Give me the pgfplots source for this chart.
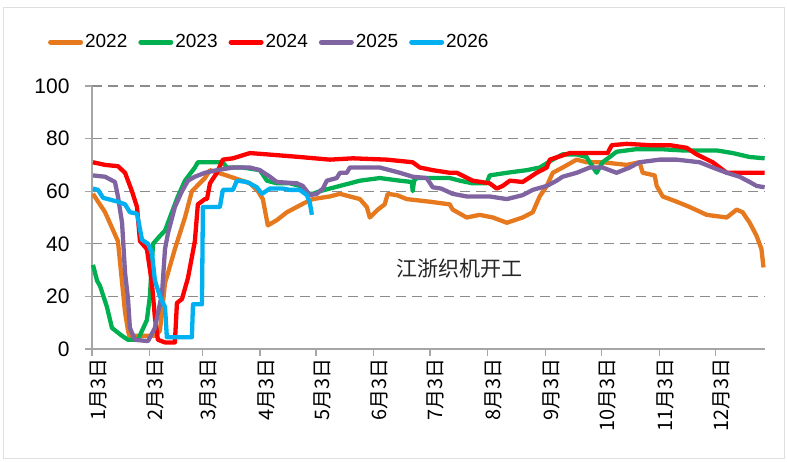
\documentclass[border=0pt]{standalone}
\usepackage{pgfplots}
\pgfplotsset{compat=1.18}
\usepackage{fontspec}
\setmainfont{Liberation Sans}
\newfontfamily\cjk{Noto Sans CJK SC}
\definecolor{c22}{RGB}{230,120,30}
\definecolor{c23}{RGB}{0,176,80}
\definecolor{c24}{RGB}{255,0,0}
\definecolor{c25}{RGB}{128,100,162}
\definecolor{c26}{RGB}{0,176,240}
\begin{document}
\begin{tikzpicture}
\useasboundingbox (-92pt,-113pt) rectangle (695pt,349pt);
\draw[gray!25, line width=1pt] (-88pt,-110pt) rectangle (692pt,341pt);
\begin{axis}[
  scale only axis, width=673pt, height=263pt,
  xmin=3, xmax=363.5, ymin=0, ymax=100,
  axis lines*=left,
  axis line style={draw=gray!70, line width=1.2pt},
  tick style={draw=gray!70, line width=1.2pt},
  tick align=outside, major tick length=7pt,
  xtick={3,34,62,93,123,154,184,215,246,276,307,337},
  xticklabels={1月3日,2月3日,3月3日,4月3日,5月3日,6月3日,7月3日,8月3日,9月3日,10月3日,11月3日,12月3日},
  x tick label style={rotate=90, anchor=east, font=\cjk\fontsize{20}{20}\selectfont, inner sep=2pt, xshift=0pt, yshift=-6pt},
  ytick={0,20,40,60,80,100},
  y tick label style={font=\fontsize{21}{21}\selectfont, xshift=-12pt},
  /pgf/number format/assume math mode=true,
  ymajorgrids,
  grid style={draw=gray!90, line width=1.3pt, dash pattern=on 10pt off 6pt},
  legend columns=5,
  legend style={at={(-0.07,1.167)}, anchor=west, draw=none, fill=none,
    font=\fontsize{19}{19}\selectfont,
    /tikz/every even column/.append style={column sep=9pt}},
  legend image code/.code={\draw[line width=5pt, line cap=round] (0pt,0pt) -- (30pt,0pt);},
  every axis plot/.append style={line width=4.3pt, line join=round, mark=none},
  clip=false,
]
\addplot[c22] coordinates {(3.5,59)(10,52)(16.9,41)(20.7,14)(22.3,7)(23,5)(37,5)(39.4,7)(42.1,25)(47.4,38)(52.8,50)(56.5,60)(63.5,65)(66.2,68)(75,66)(87.6,63)(91.9,60)(94.5,57)(97.2,47)(102,49)(107.4,52)(112.7,54)(118.1,56)(121.3,57)(130.4,58)(135.8,59)(146.5,57)(150.2,54)(151.8,50)(156.1,53)(159.8,55)(161.4,59)(166.3,58.5)(171.6,57)(183.9,56)(194.6,55)(196.2,53)(203.7,50)(210.7,51)(217.7,50)(225.2,48)(233.7,50)(239.1,52)(242.8,58)(246.6,62)(249.8,67)(255.1,69)(262.6,72)(267.9,71)(276.5,71)(289.4,70)(296.3,71)(298,67)(304.4,66)(305.5,62)(308.7,58)(316.2,56)(323.1,54)(332.3,51)(343,50)(348.3,53)(351.5,52)(355.3,48)(359,43)(361.6,38)(362.7,31)};
\addlegendentry{2022}
\addplot[c23] coordinates {(3.5,32)(5.7,26)(7.3,24)(11,16)(13.7,8)(19.1,5)(22.3,3.5)(27.6,3.5)(32.4,11)(34,20)(35.7,40)(39.4,43)(42.1,45)(45.8,52)(49,58)(52.8,64)(58.1,69)(59.7,71)(67.8,71)(73,71)(75.3,69)(83.8,69)(92.9,68)(96.7,64)(102,63)(109,63)(114.3,62)(118.1,59)(121.3,59)(125,60)(130.4,61)(135.8,62)(146.5,64)(157.2,65)(167.9,64)(174.3,63.5)(174.8,60)(175.5,64)(177,65)(194.6,65)(200,64)(206.9,63)(214.4,63)(216,66)(225.2,67)(235.9,68)(242.8,69)(249.8,72)(255.1,74)(262.6,74)(267.9,73)(269.6,71)(273.3,67)(276.5,71)(280.3,73)(284,75)(294.7,76)(307.1,76)(319.4,75.5)(337.6,75.5)(346.2,74.5)(355.3,73)(363.3,72.5)};
\addlegendentry{2023}
\addplot[c24] coordinates {(3.5,71)(10,70)(16.9,69.5)(20.7,67)(24.4,60)(27.1,54)(28.7,41)(32.4,38)(35.1,25)(36.7,12)(38.3,3.5)(42.1,2.5)(47.4,2.5)(48.5,17.5)(51.2,19)(54.4,27)(58.1,41)(59.7,55)(63.5,57)(64.6,57)(66.2,63)(69.9,67)(73.1,72)(78.5,72.5)(87.6,74.5)(96.7,74)(114.3,73)(130.4,72)(142.7,72.5)(160.9,72)(174.8,71)(178.6,69)(185.5,68)(194.6,67)(198.4,67)(206.9,64)(216,63)(219.8,61)(223,62)(226.8,64)(233.7,63.5)(241.2,67)(246.6,69)(248.2,72)(258.9,74.5)(279.2,74.5)(281.4,77.5)(289.4,78)(301.7,77.5)(312.5,77.5)(321.5,76.5)(326.9,74)(335.5,71)(343,67)(363.3,67)};
\addlegendentry{2024}
\addplot[c25] coordinates {(3.5,66)(10,65.5)(15.3,63.5)(16.9,58)(19.1,48)(20.7,29)(22.3,19)(23.3,8)(26,3.5)(33,3)(36.7,8)(40.5,21)(42.1,38)(43.7,44)(47.4,54)(51.2,60)(54.4,64)(58.1,65.5)(63.5,67)(69.9,68)(78.5,69)(87.6,69)(92.9,68)(98.3,65.5)(102,63.5)(112.7,63)(115.9,62)(119.7,58.5)(123.4,59)(126.7,61)(128.8,64)(134.1,65)(135.8,67)(139.5,67)(141.1,69)(157.2,69)(167.9,67)(174.8,65.5)(182.3,65)(185.5,61.5)(190,61)(196.2,59)(203.7,58)(216,58)(225.2,57)(233.7,58.5)(239.1,60.5)(246.6,62)(251.9,64)(255.1,65.5)(262.6,67)(269.6,69)(276.5,69)(284,67)(291,69)(296.3,71)(307.1,72)(316.2,72)(328.5,71)(335.5,69)(343,67)(349.9,65.5)(355.3,63.5)(359,62)(363.3,61.5)};
\addlegendentry{2025}
\addplot[c26] coordinates {(3.5,61)(6.2,60.5)(8.9,57.5)(16.9,56)(20.7,55)(23.3,52)(27.1,51.5)(29.8,41.5)(33,40)(35.1,36.5)(36.7,26)(39.4,20)(42.1,16)(43.1,4.5)(56.5,4.5)(57.1,17)(61.9,17)(62.4,54)(71.5,54)(73.1,60.5)(78.5,60.5)(80.6,64)(86,63.5)(91.3,61.5)(94,59)(98.3,61)(105.2,61)(109,60.5)(114.3,60.5)(118.1,58.5)(119.7,55.5)(120.8,51)};
\addlegendentry{2026}
\node[font=\cjk\fontsize{21}{21}\selectfont, text=black!85] at (axis cs:200,30.5) {江浙织机开工};
\end{axis}
\end{tikzpicture}
\end{document}
